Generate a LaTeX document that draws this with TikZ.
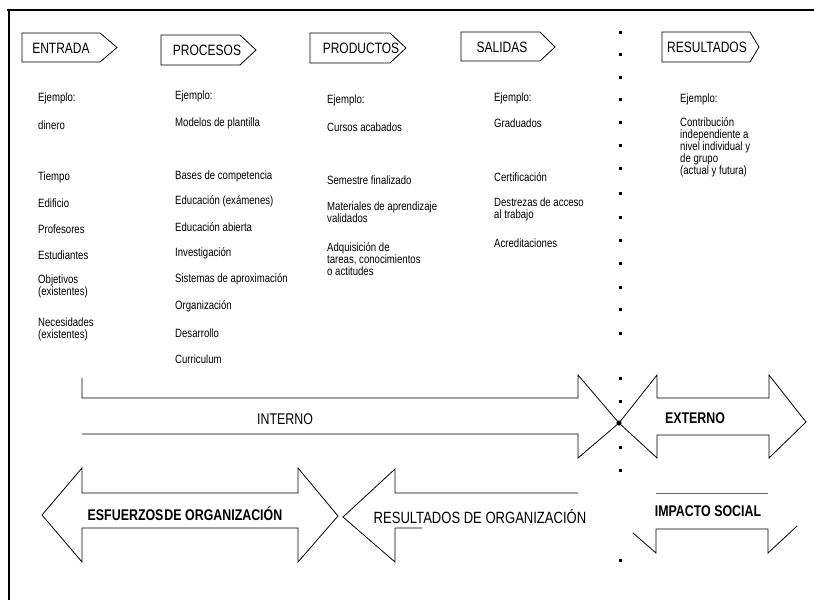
\documentclass[tikz,border=0pt]{standalone}
\usepackage{fontspec}
\setmainfont{Liberation Sans}[FakeStretch=0.8]
\begin{document}
\begin{tikzpicture}[x=1pt,y=-1pt,
  outline/.style={draw=black,line width=0.8pt,line join=miter},
  hdrtext/.style={inner sep=0pt,font=\fontsize{15}{18}\selectfont},
  item/.style={inner sep=0pt,anchor=west,align=left,font=\fontsize{12}{12}\selectfont},
  band/.style={inner sep=0pt,font=\fontsize{15.5}{18}\selectfont},
  bandbold/.style={inner sep=0pt,font=\fontsize{15.5}{18}\selectfont\bfseries},
  sepdot/.style={fill=black,minimum size=3pt,inner sep=0pt,draw=none,rectangle}]
\useasboundingbox (0,0) rectangle (814,605);

% frame: top rule and left rule
\draw[line width=2.5pt] (7,10) -- (814,10);
\draw[line width=2.5pt] (9,10) -- (9,600);

% header tags
\draw[outline] (22,33) -- (100,33) -- (117,47.5) -- (100,62) -- (22,62) -- cycle;
\node[hdrtext] (hEntrada) at (61,48) {ENTRADA};
\draw[outline] (161,35) -- (240,35) -- (256,50) -- (240,65) -- (161,65) -- cycle;
\node[hdrtext] (hProcesos) at (207,50) {PROCESOS};
\draw[outline] (310,33) -- (390,33) -- (406,48) -- (390,63) -- (310,63) -- cycle;
\node[hdrtext] (hProductos) at (361,48) {PRODUCTOS};
\draw[outline] (461,32) -- (540,32) -- (555,47) -- (540,61) -- (461,61) -- cycle;
\node[hdrtext] (hSalidas) at (502,47) {SALIDAS};
\draw[outline] (662,32) -- (750,32) -- (759,47) -- (750,62) -- (662,62) -- cycle;
\node[hdrtext] (hResultados) at (707,47) {RESULTADOS};

% column: entrada
\node[item] (e0) at (38,98) {Ejemplo:};
\node[item] (e1) at (38,125) {dinero};
\node[item] (e2) at (38,177) {Tiempo};
\node[item] (e3) at (38,203) {Edificio};
\node[item] (e4) at (38,229) {Profesores};
\node[item] (e5) at (38,255) {Estudiantes};
\node[item] (e6) at (38,286) {Objetivos\\(existentes)};
\node[item] (e7) at (38,329) {Necesidades\\(existentes)};

% column: procesos
\node[item] (p0) at (175,96) {Ejemplo:};
\node[item] (p1) at (175,123) {Modelos de plantilla};
\node[item] (p2) at (175,176) {Bases de competencia};
\node[item] (p3) at (175,201) {Educación (exámenes)};
\node[item] (p4) at (175,227) {Educación abierta};
\node[item] (p5) at (175,253) {Investigación};
\node[item] (p6) at (175,279) {Sistemas de aproximación};
\node[item] (p7) at (175,306) {Organización};
\node[item] (p8) at (175,333) {Desarrollo};
\node[item] (p9) at (175,359) {Curriculum};

% column: productos
\node[item] (r0) at (327,100) {Ejemplo:};
\node[item] (r1) at (327,127) {Cursos acabados};
\node[item] (r2) at (327,180) {Semestre finalizado};
\node[item] (r3) at (327,212) {Materiales de aprendizaje\\validados};
\node[item] (r4) at (327,259) {Adquisición de\\tareas, conocimientos\\o actitudes};

% column: salidas
\node[item] (s0) at (494,98) {Ejemplo:};
\node[item] (s1) at (494,123) {Graduados};
\node[item] (s2) at (494,177) {Certificación};
\node[item] (s3) at (494,209) {Destrezas de acceso\\al trabajo};
\node[item] (s4) at (494,243) {Acreditaciones};

% column: resultados
\node[item] (t0) at (680,99) {Ejemplo:};
\node[item] (t1) at (680,147) {Contribución\\independiente a\\nivel individual y\\de grupo\\(actual y futura)};

% dotted divider
\foreach \yy in {32,54,77,99,122,145,168,193,217,240,263,287,309,333,378,401,447,470,560}
  \node[sepdot] at (620,\yy) {};
\fill (619,423) circle (2.6pt);

% internal / external band
\draw[outline] (82,378) -- (82,398) -- (578,398) -- (578,375) -- (619,423)
  -- (578,458) -- (578,434) -- (82,434);
\node[band] (interno) at (285,419) {INTERNO};
\draw[outline] (619,423) -- (657,375) -- (657,398) -- (769,398) -- (769,375)
  -- (806,422) -- (769,458) -- (769,435) -- (657,435) -- (657,458) -- cycle;
\node[bandbold] (externo) at (695,418) {EXTERNO};

% organisation band
\draw[outline] (42,515) -- (82,468) -- (82,493) -- (298,493) -- (298,468)
  -- (338,516) -- (298,562) -- (298,528) -- (82,528) -- (82,562) -- cycle;
\node[bandbold] (esfuerzos) at (185,514) {ESFUERZOS\kern1pt DE ORGANIZACIÓN};

\draw[outline] (578,493) -- (395,493) -- (395,469) -- (343,517) -- (395,562)
  -- (395,528) -- (422,528);
\node[band,font=\fontsize{16.3}{18}\selectfont] (resorg) at (480,517) {RESULTADOS DE ORGANIZACIÓN};

\draw[outline,draw=black!60] (656,493) -- (768,493);
\draw[outline] (633,533) -- (656,553) -- (656,529) -- (768,529) -- (768,553) -- (797,526);
\node[bandbold] (impacto) at (708,511) {IMPACTO SOCIAL};
\end{tikzpicture}
\end{document}
